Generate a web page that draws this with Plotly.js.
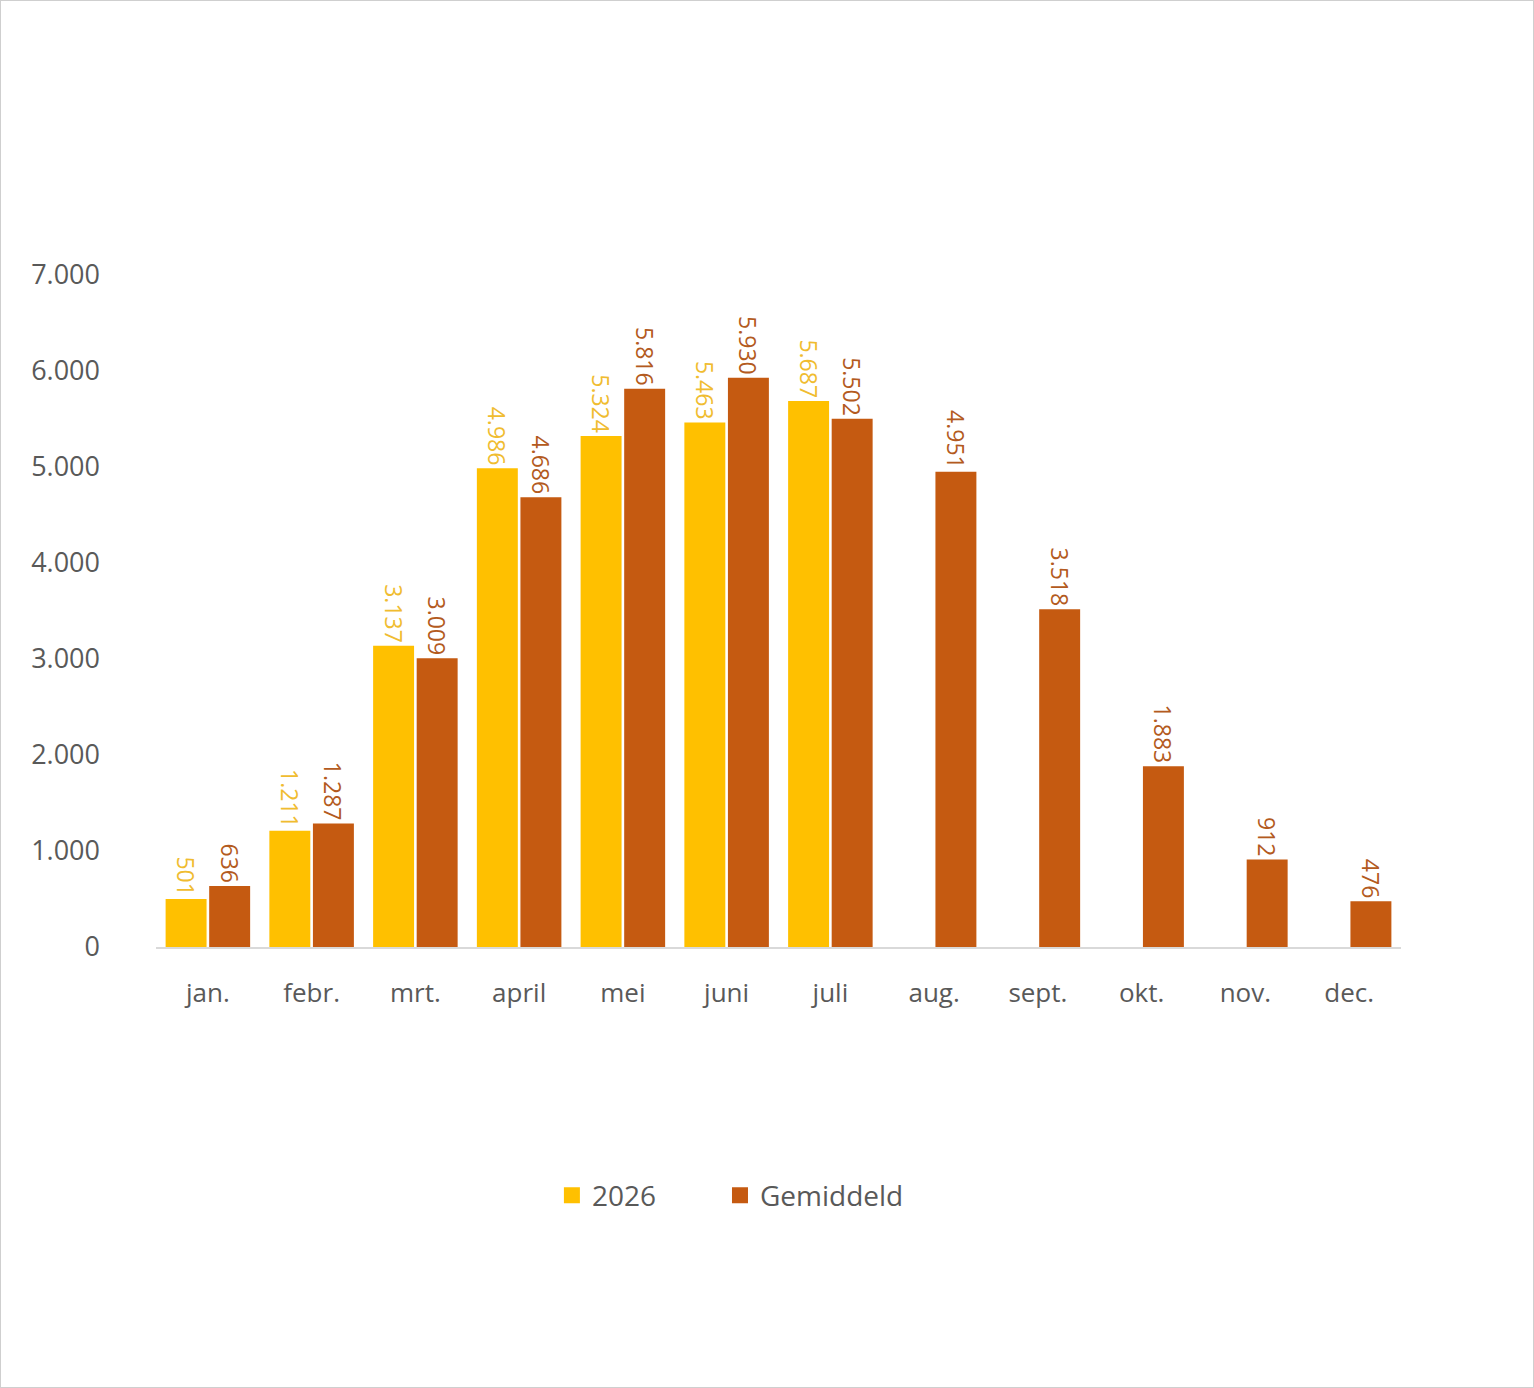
<!DOCTYPE html>
<html>
<head>
<meta charset="utf-8">
<script src="https://cdn.plot.ly/plotly-3.0.1.min.js"></script>
<style>
html,body{margin:0;padding:0;background:#fff;}
#chart{width:1532px;height:1386px;border:1px solid #cfcfcf;}
</style>
</head>
<body>
<div id="chart"></div>
<script>
const months = ["jan.","febr.","mrt.","april","mei","juni","juli","aug.","sept.","okt.","nov.","dec."];
const values2026 = [501,1211,3137,4986,5324,5463,5687];
const valuesGemiddeld = [636,1287,3009,4686,5816,5930,5502,4951,3518,1883,912,476];
const yTicks = [0,1000,2000,3000,4000,5000,6000,7000];
const seriesNames = ["2026","Gemiddeld"];
const seriesColors = ["#FFC000","#C55A11"];
const labelColors = ["#F0BC30","#B35A20"];

const fmt = v => v.toLocaleString('de-DE');
const fontFam = '"Open Sans", "Noto Sans", sans-serif';

const traces = [
  {
    type:'bar', name:seriesNames[0], x: months.slice(0, values2026.length), y: values2026,
    marker:{color:seriesColors[0]}, showlegend:false,
    text: values2026.map(fmt), textposition:'outside', textangle:90,
    textfont:{color:labelColors[0], size:23, family:fontFam},
    constraintext:'none', cliponaxis:false
  },
  {
    type:'bar', name:seriesNames[1], x: months, y: valuesGemiddeld,
    marker:{color:seriesColors[1]}, showlegend:false,
    text: valuesGemiddeld.map(fmt), textposition:'outside', textangle:90,
    textfont:{color:labelColors[1], size:23, family:fontFam},
    constraintext:'none', cliponaxis:false
  },
  // legend entries with larger square symbols
  {type:'scatter', mode:'markers', name:seriesNames[0], x:[null], y:[null], legend:'legend',
   marker:{symbol:'square', size:20, color:seriesColors[0]}},
  {type:'scatter', mode:'markers', name:seriesNames[1], x:[null], y:[null], legend:'legend2',
   marker:{symbol:'square', size:20, color:seriesColors[1]}}
];

const legendBase = {orientation:'h', y:-0.37, yanchor:'middle', xanchor:'left',
                    font:{size:28, color:'#595959'}, itemwidth:30, bgcolor:'rgba(0,0,0,0)'};

const layout = {
  width:1532, height:1386,
  margin:{l:155, r:132, t:274, b:440},
  paper_bgcolor:'#fff', plot_bgcolor:'#fff',
  font:{family:fontFam, color:'#595959', size:26},
  separators:',.',
  barmode:'group', bargap:0.16, bargroupgap:0.06,
  showlegend:true,
  legend:Object.assign({}, legendBase, {x:0.318}),
  legend2:Object.assign({}, legendBase, {x:0.453}),
  xaxis:{showline:true, linecolor:'#d9d9d9', linewidth:2, ticks:'', tickfont:{size:26},
         showgrid:false, zeroline:false, ticklabelstandoff:22, fixedrange:true},
  yaxis:{range:[0,7000], tickvals:yTicks, ticktext:yTicks.map(fmt), showgrid:false,
         zeroline:false, showline:false, ticks:'', tickfont:{size:27}, ticklabelstandoff:55}
};

Plotly.newPlot('chart', traces, layout, {displayModeBar:false, staticPlot:true});
</script>
</body>
</html>
